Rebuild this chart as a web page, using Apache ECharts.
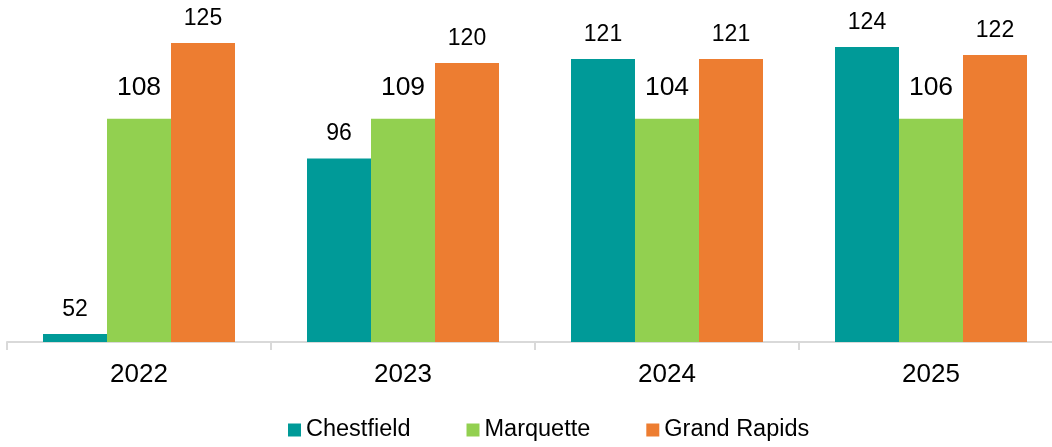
<!DOCTYPE html>
<html>
<head>
<meta charset="utf-8">
<script src="https://cdn.jsdelivr.net/npm/echarts@6/dist/echarts.min.js"></script>
<style>html,body{margin:0;padding:0;background:#fff}#c{width:1052px;height:447px}</style>
</head>
<body>
<div id="c"></div>
<script>
const categories = ['2022', '2023', '2024', '2025'];
const seriesNames = ['Chestfield', 'Marquette', 'Grand Rapids'];
const chestfield = [52, 96, 121, 124];
const marquetteBars = [106, 106, 106, 106];
const marquetteLabels = [108, 109, 104, 106];
const grandRapids = [125, 120, 121, 122];
const colors = ['#009A98', '#92D050', '#ED7D31'];
const FONT = 'Liberation Sans, Arial, sans-serif';

const chart = echarts.init(document.getElementById('c'), null, {renderer: 'canvas'});
chart.setOption({
  animation: false,
  color: colors,
  textStyle: {fontFamily: FONT},
  grid: {left: 7, width: 1056, top: 23, height: 319, containLabel: false, outerBoundsMode: 'none'},
  legend: {
    data: seriesNames,
    left: 283, bottom: 0,
    itemWidth: 13, itemHeight: 13, itemGap: 56,
    icon: 'rect',
    textStyle: {fontSize: 23.5, color: '#000', fontFamily: FONT}
  },
  xAxis: {
    type: 'category',
    data: categories,
    axisLine: {lineStyle: {color: '#d9d9d9', width: 2}},
    axisTick: {show: true, length: 8, lineStyle: {color: '#d9d9d9', width: 2}},
    axisLabel: {fontSize: 26, color: '#000', margin: 20, fontFamily: FONT}
  },
  yAxis: {
    type: 'value', min: 50, max: 130, show: false,
    splitLine: {show: false}
  },
  series: [
    {
      name: 'Chestfield', type: 'bar', data: chestfield, barWidth: 64, barGap: '0%',
      label: {show: true, position: 'top', distance: 13, fontSize: 23, color: '#000', fontFamily: FONT}
    },
    {
      name: 'Marquette', type: 'bar', data: marquetteBars, barWidth: 64, barGap: '0%',
      label: {show: true, position: 'top', distance: 18, fontSize: 26.5, color: '#000', fontFamily: FONT,
        formatter: p => String(marquetteLabels[p.dataIndex])}
    },
    {
      name: 'Grand Rapids', type: 'bar', data: grandRapids, barWidth: 64, barGap: '0%',
      label: {show: true, position: 'top', distance: 13, fontSize: 23, color: '#000', fontFamily: FONT}
    }
  ]
});
</script>
</body>
</html>
